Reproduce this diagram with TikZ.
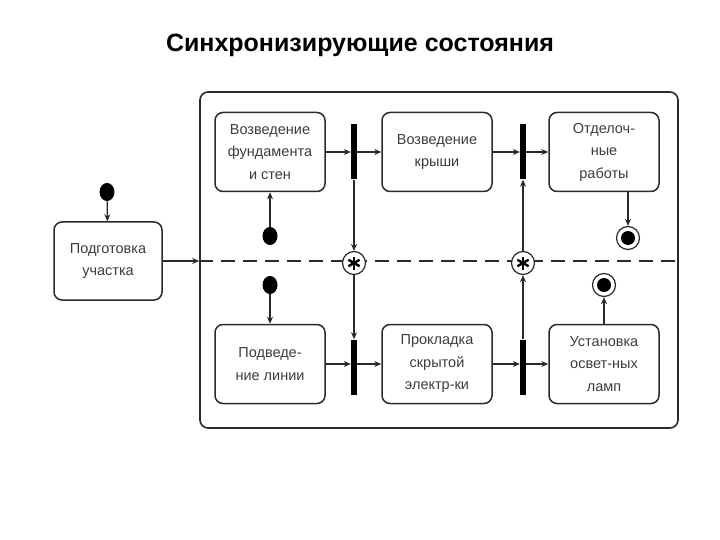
\documentclass[tikz,border=0pt]{standalone}
\usepackage{fontspec}
\setmainfont{Liberation Sans}
\usetikzlibrary{arrows.meta,shapes.geometric}

\definecolor{linegray}{HTML}{2A2A2A}
\definecolor{textgray}{HTML}{3C3C3C}

\tikzset{
  state/.style={draw=linegray, line width=1.5pt, rounded corners=8pt,
    minimum width=110pt, minimum height=79pt, align=center,
    text=textgray, font=\fontsize{14.5}{22.5}\selectfont},
  startdot/.style={ellipse, fill=black, minimum width=15pt, minimum height=18pt, inner sep=0pt},
  enddot/.style={circle, draw=linegray, fill=white, line width=1.2pt, minimum size=23pt, inner sep=0pt,
    path picture={\fill[black] (path picture bounding box.center) circle (7pt);}},
  bar/.style={rectangle, fill=black, minimum width=6pt, minimum height=55pt, inner sep=0pt},
  syncst/.style={circle, draw=linegray, fill=white, line width=1.2pt, minimum size=23pt, inner sep=0pt,
    path picture={
      \foreach \ang in {90,30,150}
        \draw[black, line width=2.4pt] (path picture bounding box.center) ++(\ang:-6.5pt) -- ++(\ang:13pt);}},
  flow/.style={draw=linegray, line width=1.2pt, -{Stealth[length=7pt,width=6pt]}},
}

\begin{document}
\begin{tikzpicture}[x=1pt,y=-1pt]
\useasboundingbox (0,0) rectangle (720,540);

% Title
\node[font=\bfseries\fontsize{25}{28}\selectfont] (title) at (360,45) {Синхронизирующие состояния};

% Preparation (left)
\node[startdot] (start0) at (107,192) {};
\node[state, minimum width=108pt, minimum height=78pt] (prep) at (108,261) {Подготовка\\участка};
\draw[flow] (start0) -- (prep);

% Composite state
\node[draw=linegray, line width=1.6pt, rounded corners=8pt, minimum width=478pt, minimum height=336pt] (region) at (439,260) {};
\coordinate (cut-in) at (prep -| region.west);
\coordinate (cut-out) at (prep -| region.east);
\draw[flow] (prep) -- (cut-in);
\draw[draw=linegray, line width=1.4pt, dash pattern=on 14pt off 8pt] (cut-in) -- (cut-out);

% Upper region
\node[state] (walls) at (270,152) {Возведение\\фундамента\\и стен};
\node[bar] (fork1) at (354,152) {};
\node[state] (roof) at (437,152) {Возведение\\крыши};
\node[bar] (fork2) at (523,152) {};
\node[state] (finish) at (604,152) {Отделоч-\\ные\\работы};
\node[startdot] (start1) at (270,236) {};
\node[enddot] (end1) at (628,238) {};

\draw[flow] (start1) -- (walls);
\draw[flow] (walls) -- (fork1);
\draw[flow] (fork1) -- (roof);
\draw[flow] (roof) -- (fork2);
\draw[flow] (fork2) -- (finish);
\draw[flow] (finish.south -| end1) -- (end1);

% Synch states
\node[syncst] (sync1) at (354,263) {};
\node[syncst] (sync2) at (523,263) {};

% Lower region
\node[state] (line) at (270,364) {Подведе-\\ние линии};
\node[bar] (fork3) at (354,367) {};
\node[state] (wiring) at (437,364) {Прокладка\\скрытой\\электр-ки};
\node[bar] (fork4) at (523,367) {};
\node[state] (lamps) at (604,364) {Установка\\освет-ных\\ламп};
\node[startdot] (start2) at (270,285) {};
\node[enddot] (end2) at (604,285) {};

\draw[flow] (start2) -- (line);
\draw[flow] (line.east) -- (line.east -| fork3.west);
\draw[flow] (line.east -| fork3.east) -- (line.east -| wiring.west);
\draw[flow] (wiring.east) -- (wiring.east -| fork4.west);
\draw[flow] (wiring.east -| fork4.east) -- (wiring.east -| lamps.west);
\draw[flow] (lamps) -- (end2);

% Synch connections
\draw[flow] (fork1) -- (sync1);
\draw[flow] (sync1) -- (fork3);
\draw[flow] (fork4) -- (sync2);
\draw[flow] (sync2) -- (fork2);
\end{tikzpicture}
\end{document}
